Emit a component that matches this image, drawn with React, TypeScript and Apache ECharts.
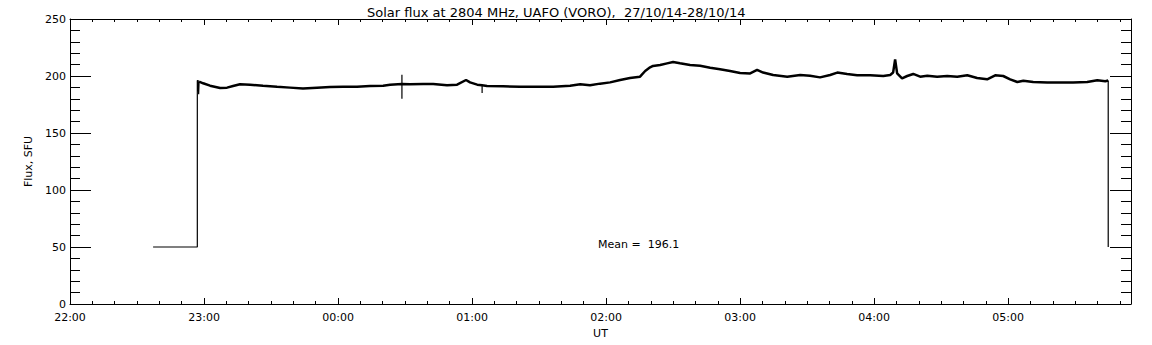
import React, { useEffect, useRef } from "react";
import * as echarts from "echarts";

// minutes since 22:00 UT — main (noisy) flux trace
const minutes = [
  57.8, 59.6, 62.7, 67.2, 70.3, 73.0, 76.1, 80.6, 86.4, 92.7,
  98.5, 104.3, 110.6, 116.4, 122.2, 128.5, 134.3, 140.2, 143.3, 148.6,
  152.2, 158.1, 162.6, 168.8, 173.3, 177.3, 179.1, 182.3, 184.5, 186.7, 193.9, 201.5,
  209.1, 216.3, 223.9, 228.4, 232.8, 237.3, 241.8, 246.3, 250.7, 255.2, 257.5, 259.7, 261.0,
  264.2, 267.3, 270.0, 273.1, 277.6, 282.1, 286.6, 291.0, 295.5, 300.0, 304.5, 307.6, 310.3,
  314.8, 321.1, 326.9, 331.3, 335.8, 340.3, 343.5, 347.9, 352.4, 358.2, 364.1, 367.2, 368.5,
  369.4, 370.3, 372.5, 374.8, 377.5, 380.6, 383.8, 388.2, 392.7, 397.2, 401.7, 406.1, 410.6,
  414.2, 417.8, 420.9, 424.1, 426.8, 431.2, 437.5, 443.3, 449.1, 455.4, 459.9, 463.5, 464.8,
];
const flux = [
  195, 193.6, 191.5, 189.5, 189.8, 191.2, 192.7, 192.4, 191.5, 190.6,
  189.8, 189.0, 189.8, 190.4, 190.6, 190.6, 191.2, 191.5, 192.4, 193,
  192.7, 193.0, 193.0, 191.8, 192.4, 196.5, 194.4, 192.4, 191.8, 191.2, 191.0, 190.6,
  190.6, 190.6, 191.5, 192.7, 191.8, 193.3, 194.4, 196.5, 198.2, 199.4, 204.4, 207.6, 208.8,
  209.6, 211.1, 212.3, 211.1, 209.6, 209.0, 207.3, 205.9, 204.4, 202.6, 202.3, 205.3, 203.0,
  200.9, 199.4, 200.9, 200.3, 198.8, 200.9, 203.0, 201.8, 200.6, 200.6, 200.0, 200.9, 203.0,
  214.6, 202.3, 198.0, 200.0, 201.8, 199.4, 200.3, 199.4, 200.0, 199.4, 200.6, 198.2, 197.1,
  200.6, 200.0, 197.1, 194.7, 195.9, 194.7, 194.2, 194.2, 194.4, 194.7, 196.2, 195.4, 196.0,
];
// thin segments: leading step, single-sample spikes, trailing drop (null = gap)
const thinMinutes = [37.2, 57.0, 57.0, 57.4, 57.6, 57.8, null, 148.6, 148.6, null, 184.5, 184.5, null, 464.8, 464.8];
const thinFlux = [50, 50, 196, 196, 184, 195, null, 201, 180, null, 192, 185, null, 196, 50];

const hourLabels = ["22:00", "23:00", "00:00", "01:00", "02:00", "03:00", "04:00", "05:00"];
const titleText = "Solar flux at 2804 MHz, UAFO (VORO),  27/10/14-28/10/14";
const meanText = "Mean =  196.1";

const FONT = "DejaVu Sans";

export default function App() {
  const ref = useRef<HTMLDivElement>(null);
  useEffect(() => {
    if (!ref.current) return;
    const chart = echarts.init(ref.current, undefined, { renderer: "svg" });
    const black = "#000";
    const xBase = (pos: string, len: number, interval: number, labels: boolean, line: boolean) => ({
      type: "value",
      position: pos,
      min: 0,
      max: 475,
      interval,
      axisLine: { show: line, onZero: false, lineStyle: { color: black, width: 1 } },
      axisTick: { show: true, inside: true, length: len, lineStyle: { color: black, width: 1 } },
      axisLabel: {
        show: labels,
        margin: 8,
        color: black,
        fontFamily: FONT,
        fontSize: 11,
        formatter: (v: number) => (v % 60 === 0 ? hourLabels[v / 60] ?? "" : ""),
      },
      splitLine: { show: false },
    });
    const yBase = (pos: string, labels: boolean) => ({
      type: "value",
      position: pos,
      min: 0,
      max: 250,
      interval: 50,
      axisLine: { show: true, onZero: false, lineStyle: { color: black, width: 1 } },
      axisTick: { show: true, inside: true, length: 21, lineStyle: { color: black, width: 1 } },
      minorTick: { show: true, splitNumber: 5, length: 10, lineStyle: { color: black, width: 1 } },
      axisLabel: { show: labels, margin: 4, color: black, fontFamily: FONT, fontSize: 11 },
      splitLine: { show: false },
      minorSplitLine: { show: false },
    });
    const xMain: any = xBase("bottom", 6, 60, true, true);
    xMain.name = "UT";
    xMain.nameLocation = "middle";
    xMain.nameGap = 22;
    xMain.nameTextStyle = { color: black, fontFamily: FONT, fontSize: 11 };
    const yMain: any = yBase("left", true);
    yMain.name = "Flux, SFU";
    yMain.nameLocation = "middle";
    yMain.nameGap = 36;
    yMain.nameRotate = 90;
    yMain.nameTextStyle = { color: black, fontFamily: FONT, fontSize: 11 };

    chart.setOption({
      animation: false,
      backgroundColor: "#fff",
      title: {
        text: titleText,
        left: 362,
        top: 1,
        textStyle: { color: black, fontFamily: FONT, fontSize: 13, fontWeight: "normal" },
      },
      grid: { left: 70, right: 21, top: 19, bottom: 41, containLabel: false },
      xAxis: [
        xMain,
        xBase("bottom", 3, 10, false, false),
        xBase("top", 6, 60, false, true),
        xBase("top", 3, 10, false, false),
      ],
      yAxis: [yMain, yBase("right", false)],
      graphic: [
        {
          type: "text",
          x: 598,
          y: 244,
          style: {
            text: meanText,
            fill: black,
            font: `11px "${FONT}"`,
            verticalAlign: "middle",
          },
        },
      ],
      series: [
        {
          type: "line",
          xAxisIndex: 0,
          yAxisIndex: 0,
          data: minutes.map((m, i) => [m, flux[i]]),
          showSymbol: false,
          symbol: "none",
          lineStyle: { color: black, width: 2.5 },
          clip: false,
        },
        {
          type: "line",
          xAxisIndex: 0,
          yAxisIndex: 0,
          data: thinMinutes.map((m, i) => (m === null ? [null, null] : [m, thinFlux[i]])),
          connectNulls: false,
          showSymbol: false,
          symbol: "none",
          lineStyle: { color: black, width: 1.2 },
          clip: false,
        },
      ],
    });
    return () => chart.dispose();
  }, []);
  return (
    <div
      ref={ref}
      style={{ position: "fixed", left: 0, top: 0, width: 1152, height: 345, background: "#fff" }}
    />
  );
}
